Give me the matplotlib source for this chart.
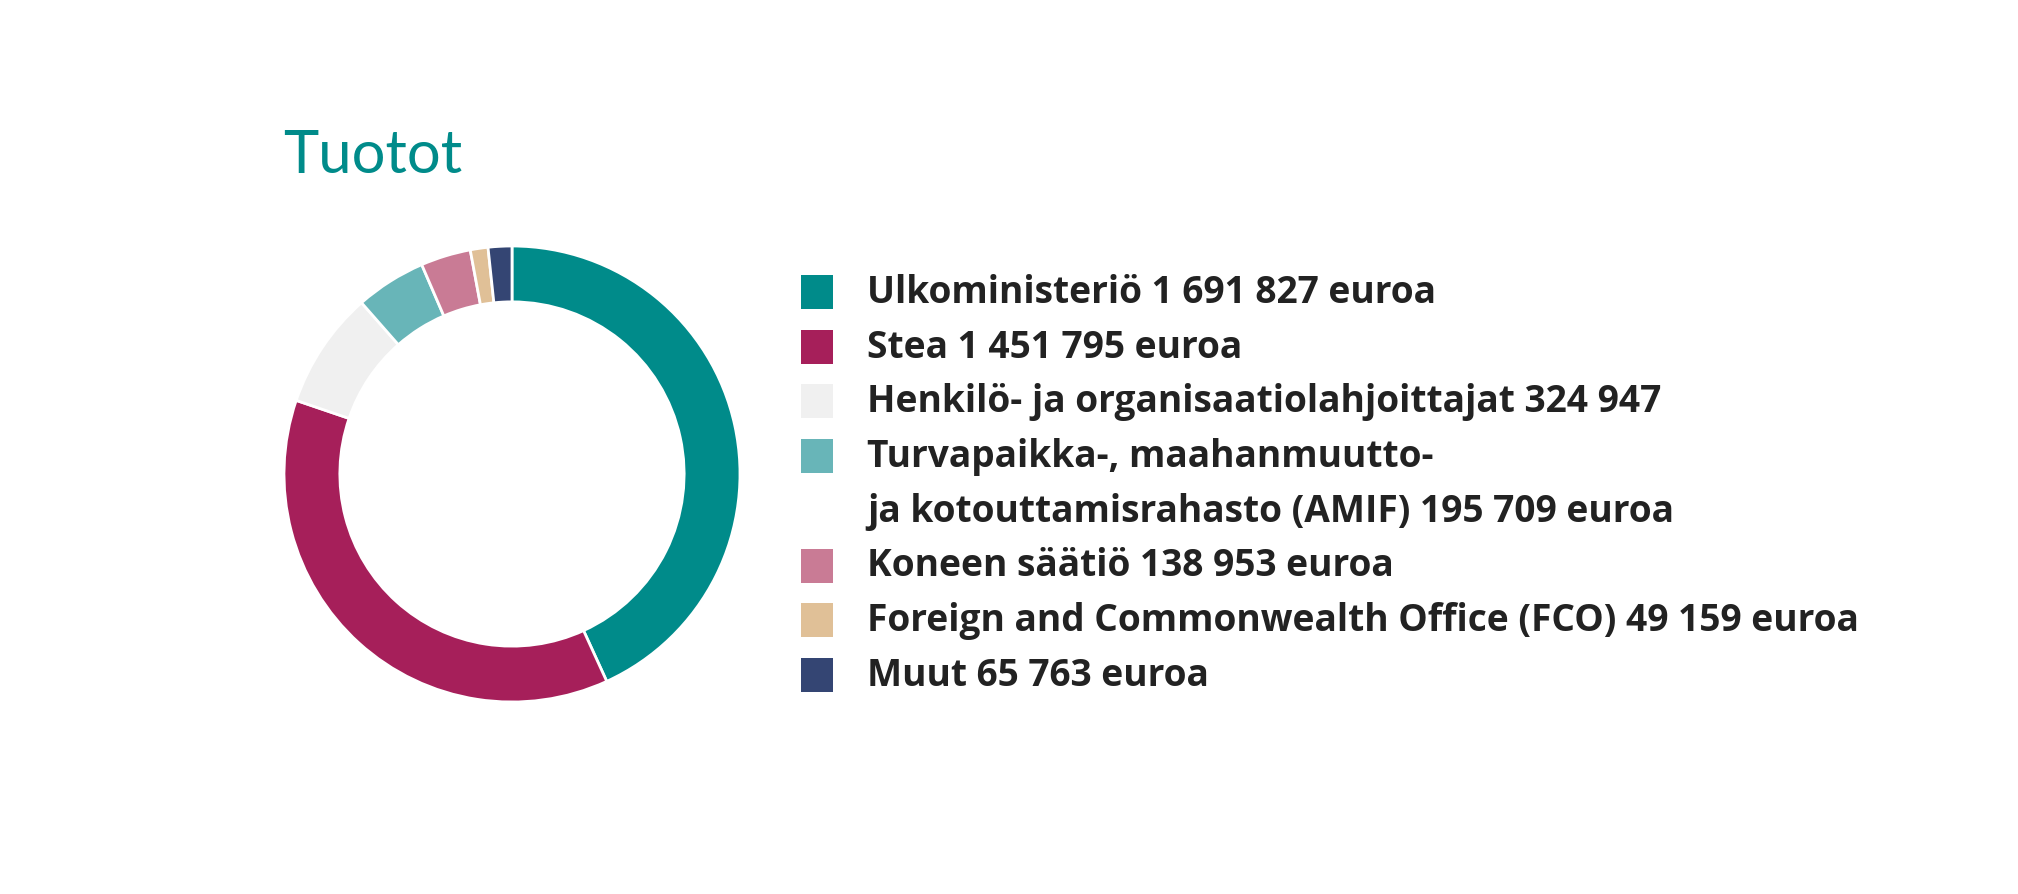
import matplotlib
matplotlib.use('Agg')
import matplotlib.pyplot as plt
from matplotlib.patches import Rectangle

plt.rcParams['font.family'] = ['Lato', 'DejaVu Sans']

# Tuotot (euroa)
labels = ['Ulkoministeriö 1 691 827 euroa',
          'Stea 1 451 795 euroa',
          'Henkilö- ja organisaatiolahjoittajat 324 947',
          'Turvapaikka-, maahanmuutto-\nja kotouttamisrahasto (AMIF) 195 709 euroa',
          'Koneen säätiö 138 953 euroa',
          'Foreign and Commonwealth Office (FCO) 49 159 euroa',
          'Muut 65 763 euroa']
values = [1691827, 1451795, 324947, 195709, 138953, 49159, 65763]
colors = ['#008b8a', '#a61f5a', '#f0f0f0', '#68b5b8', '#c97b95', '#e0c097', '#344573']

W, H = 2018, 894
fig = plt.figure(figsize=(W / 100, H / 100), dpi=100)

# donitsi
cx, cy, r = 512, 474, 228
ax = fig.add_axes([(cx - r) / W, (H - cy - r) / H, 2 * r / W, 2 * r / H])
ax.pie(values, colors=colors, startangle=90, counterclock=False, radius=1,
       wedgeprops=dict(width=0.245, edgecolor='white', linewidth=2))
ax.set_xlim(-1, 1)
ax.set_ylim(-1, 1)
ax.set_aspect('equal')
ax.axis('off')

# otsikko ja selite pikseleinä
lax = fig.add_axes([0, 0, 1, 1])
lax.set_xlim(0, W)
lax.set_ylim(H, 0)
lax.axis('off')

lax.text(283, 173, 'Tuotot', fontsize=43, color='#008b8a', va='baseline', ha='left')

row = 0
step = 54.7
for lab, col in zip(labels, colors):
    base = 303 + row * step
    lax.add_patch(Rectangle((801, base - 28), 32, 34, facecolor=col, edgecolor='none'))
    for i, line in enumerate(lab.split('\n')):
        lax.text(867, base + i * step, line, fontsize=26.7, fontweight='bold',
                 family=['Open Sans', 'DejaVu Sans'],
                 color='#222222', va='baseline', ha='left')
    row += lab.count('\n') + 1

fig.savefig('out.png', dpi=100, facecolor='white')
